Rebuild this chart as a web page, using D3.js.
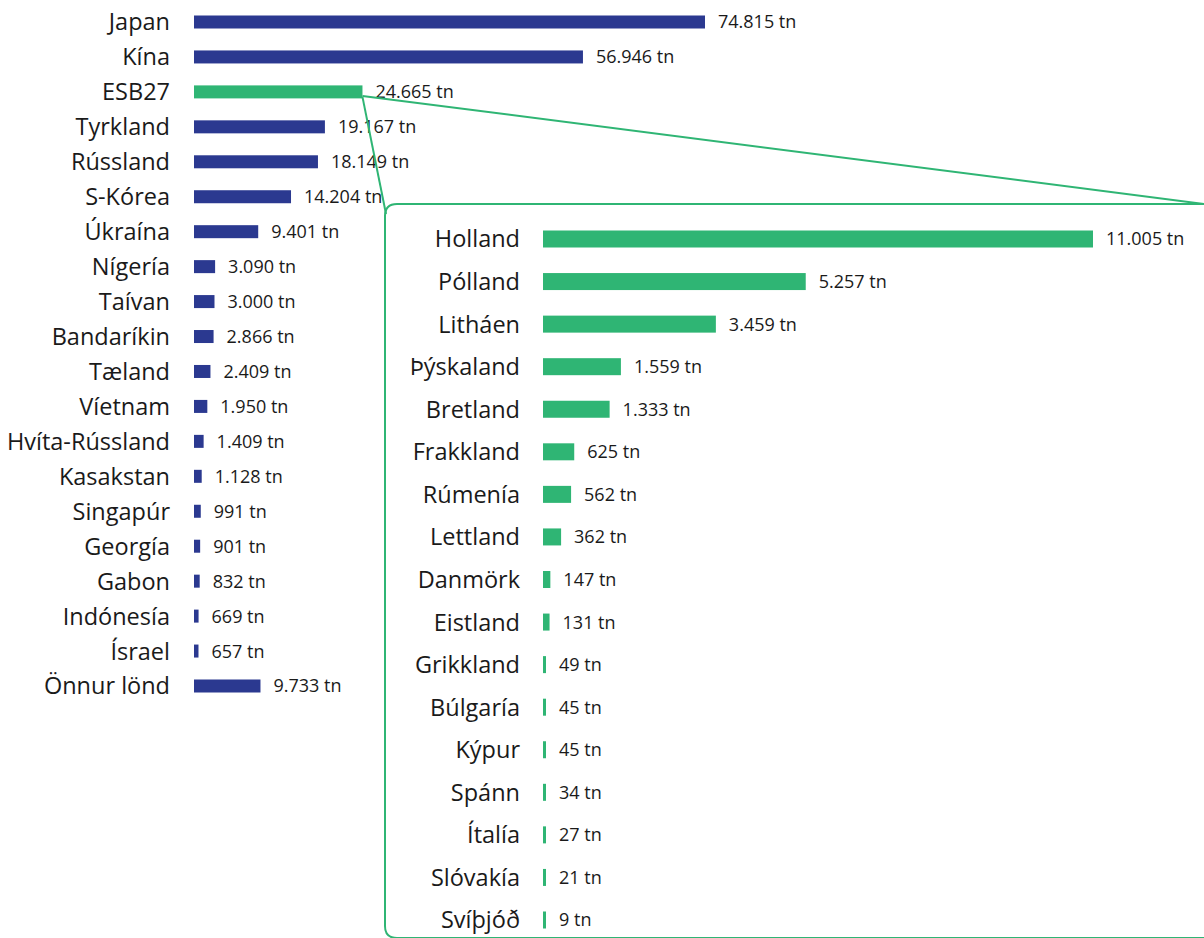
<!DOCTYPE html>
<html>
<head>
<meta charset="utf-8">
<script src="https://cdn.jsdelivr.net/npm/d3@7"></script>
<style>
html,body{margin:0;padding:0;background:#fff;}
svg{display:block;}
text{font-family:"Open Sans",sans-serif;fill:#1a1a1a;}
</style>
</head>
<body>
<svg id="chart" width="1204" height="938"></svg>
<script>
const countries = ["Japan","Kína","ESB27","Tyrkland","Rússland","S-Kórea","Úkraína","Nígería","Taívan","Bandaríkin","Tæland","Víetnam","Hvíta-Rússland","Kasakstan","Singapúr","Georgía","Gabon","Indónesía","Ísrael","Önnur lönd"];
const countryValues = [74815,56946,24665,19167,18149,14204,9401,3090,3000,2866,2409,1950,1409,1128,991,901,832,669,657,9733];
const euCountries = ["Holland","Pólland","Litháen","Þýskaland","Bretland","Frakkland","Rúmenía","Lettland","Danmörk","Eistland","Grikkland","Búlgaría","Kýpur","Spánn","Ítalía","Slóvakía","Svíþjóð"];
const euValues = [11005,5257,3459,1559,1333,625,562,362,147,131,49,45,45,34,27,21,9];
const highlight = "ESB27";

const blue = "#2b3990", green = "#2fb574";
const fmt = v => d3.format(",")(v).replace(/,/g, ".") + " tn";
const svg = d3.select("#chart");

// Left chart
const xL = d3.scaleLinear().domain([0, 74815]).range([194, 705]);
const yL = d3.scalePoint().domain(countries).range([22, 686]);
const left = svg.append("g");
const rowsL = left.selectAll("g").data(countries.map((c,i)=>({c, v: countryValues[i]}))).join("g");
rowsL.append("text").attr("x",170).attr("y",d=>yL(d.c)).attr("dy","0.36em")
  .attr("text-anchor","end").attr("font-size",23.5).text(d=>d.c);
rowsL.append("rect").attr("x",xL(0)).attr("y",d=>yL(d.c)-6.5).attr("height",13)
  .attr("width",d=>Math.max(xL(d.v)-xL(0),3)).attr("fill",d=>d.c===highlight?green:blue);
rowsL.append("text").attr("x",d=>xL(0)+Math.max(xL(d.v)-xL(0),3)+13).attr("y",d=>yL(d.c)).attr("dy","0.36em")
  .attr("font-size",18).text(d=>fmt(d.v));

// Zoom connectors and panel
const ex = xL(24665), ey = yL(highlight);
const g2 = svg.append("g").attr("fill","none").attr("stroke",green).attr("stroke-width",2);
g2.append("line").attr("x1",ex).attr("y1",ey+4).attr("x2",1204).attr("y2",204);
g2.append("line").attr("x1",ex).attr("y1",ey+5).attr("x2",386).attr("y2",214);
g2.append("path").attr("d","M1215,204 L397,204 Q385,204 385,216 L385,926 Q385,938 397,938 L1215,938");

// Right chart
const xR = d3.scaleLinear().domain([0, 11005]).range([543, 1093]);
const yR = d3.scalePoint().domain(euCountries).range([239, 920]);
const right = svg.append("g");
const rowsR = right.selectAll("g").data(euCountries.map((c,i)=>({c, v: euValues[i]}))).join("g");
rowsR.append("text").attr("x",520).attr("y",d=>yR(d.c)).attr("dy","0.36em")
  .attr("text-anchor","end").attr("font-size",23.5).text(d=>d.c);
rowsR.append("rect").attr("x",xR(0)).attr("y",d=>yR(d.c)-8.5).attr("height",17)
  .attr("width",d=>Math.max(xR(d.v)-xR(0),3)).attr("fill",green);
rowsR.append("text").attr("x",d=>xR(0)+Math.max(xR(d.v)-xR(0),3)+13).attr("y",d=>yR(d.c)).attr("dy","0.36em")
  .attr("font-size",18).text(d=>fmt(d.v));
</script>
</body>
</html>
